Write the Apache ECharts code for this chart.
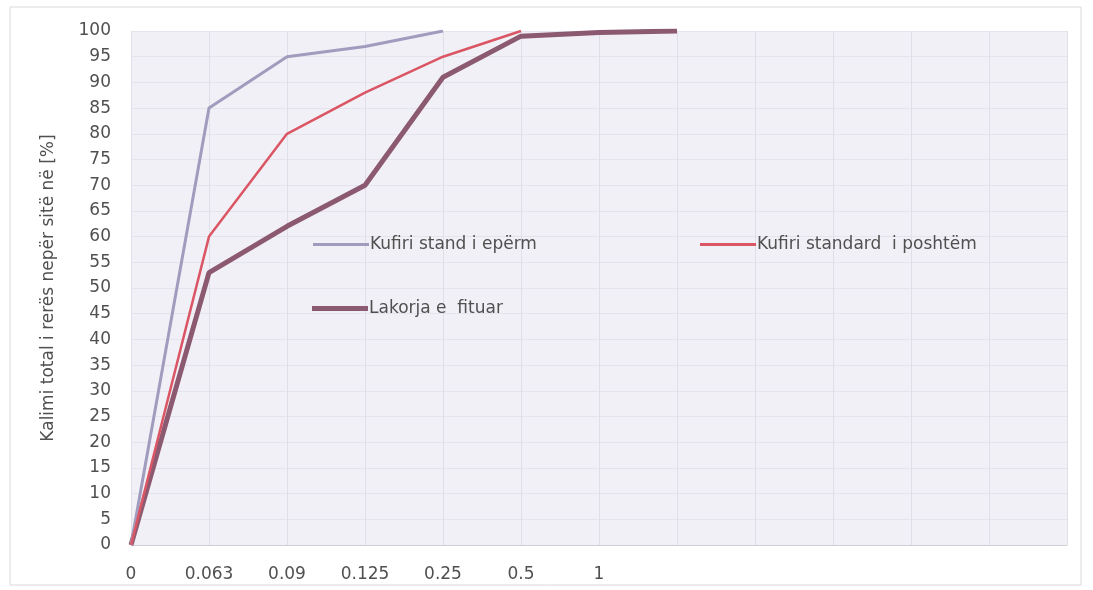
<!DOCTYPE html>
<html>
<head>
<meta charset="utf-8">
<script src="https://cdn.jsdelivr.net/npm/echarts@6/dist/echarts.min.js"></script>
<style>
  html, body { margin: 0; padding: 0; background: #ffffff; }
  #chart { width: 1093px; height: 590px; }
</style>
</head>
<body>
<div id="chart"></div>
<script>
// Sieve sizes (mm); trailing empty slots keep the grid extending to the right
const sieveLabels = ['0', '0.063', '0.09', '0.125', '0.25', '0.5', '1', '', '', '', '', '', ''];

// Cumulative passing (%) per sieve
const upperLimit = [0, 85, 95, 97, 100];
const lowerLimit = [0, 60, 80, 88, 95, 100];
const obtainedCurve = [0, 53, 62, 70, 91, 99, 99.7, 100];

const yTicks = { min: 0, max: 100, interval: 5 };

const seriesNames = ['Kufiri stand i epërm', 'Kufiri standard  i poshtëm', 'Lakorja e  fituar'];
const seriesColors = ['#a09cbe', '#db5665', '#8c5a70'];

const textColor = '#505050';
const font = '"DejaVu Sans", "Open Sans", sans-serif';

const chart = echarts.init(document.getElementById('chart'));

function legendAt(name, left, top, color, h) {
  return {
    data: [{ name: name, icon: 'rect', itemStyle: { color: color } }],
    left: left, top: top,
    itemWidth: 56, itemHeight: h, itemGap: 0,
    padding: 0,
    selectedMode: false,
    textStyle: { color: textColor, fontSize: 17, fontFamily: font, padding: [0, 0, 0, -4] }
  };
}

chart.setOption({
  backgroundColor: '#ffffff',
  animation: false,
  graphic: [{
    type: 'rect',
    shape: { x: 10, y: 7, width: 1071, height: 578 },
    style: { fill: 'none', stroke: '#d9d9d9', lineWidth: 1 },
    silent: true, z: -10
  }],
  grid: {
    left: 131, right: 26, top: 31, bottom: 45,
    show: true, backgroundColor: '#f1f0f6', borderWidth: 0
  },
  legend: [
    legendAt(seriesNames[0], 313, 236, seriesColors[0], 3),
    legendAt(seriesNames[1], 700, 236, seriesColors[1], 3),
    legendAt(seriesNames[2], 312, 300, seriesColors[2], 5)
  ],
  xAxis: {
    type: 'category',
    data: sieveLabels,
    boundaryGap: false,
    axisLine: { show: true, lineStyle: { color: '#cfcfd6', width: 1 } },
    axisTick: { show: false },
    axisLabel: { color: textColor, fontSize: 17, fontFamily: font, margin: 21, interval: 0 },
    splitLine: { show: true, lineStyle: { color: '#e0dfe9', width: 1 } }
  },
  yAxis: {
    type: 'value',
    min: yTicks.min, max: yTicks.max, interval: yTicks.interval,
    name: 'Kalimi total i rerës nepër sitë në [%]',
    nameLocation: 'middle',
    nameGap: 74,
    nameTextStyle: { color: textColor, fontSize: 17, fontFamily: font },
    axisLine: { show: false },
    axisTick: { show: false },
    axisLabel: { color: textColor, fontSize: 17, fontFamily: font, margin: 20 },
    splitLine: { show: true, lineStyle: { color: '#e5e4ed', width: 1 } }
  },
  series: [
    {
      name: seriesNames[0], type: 'line', data: upperLimit,
      showSymbol: false, symbol: 'none',
      lineStyle: { color: seriesColors[0], width: 3 },
      itemStyle: { color: seriesColors[0] }, z: 3
    },
    {
      name: seriesNames[1], type: 'line', data: lowerLimit,
      showSymbol: false, symbol: 'none',
      lineStyle: { color: seriesColors[1], width: 2.5 },
      itemStyle: { color: seriesColors[1] }, z: 3
    },
    {
      name: seriesNames[2], type: 'line', data: obtainedCurve,
      showSymbol: false, symbol: 'none',
      lineStyle: { color: seriesColors[2], width: 5 },
      itemStyle: { color: seriesColors[2] }, z: 2
    }
  ]
});
</script>
</body>
</html>
